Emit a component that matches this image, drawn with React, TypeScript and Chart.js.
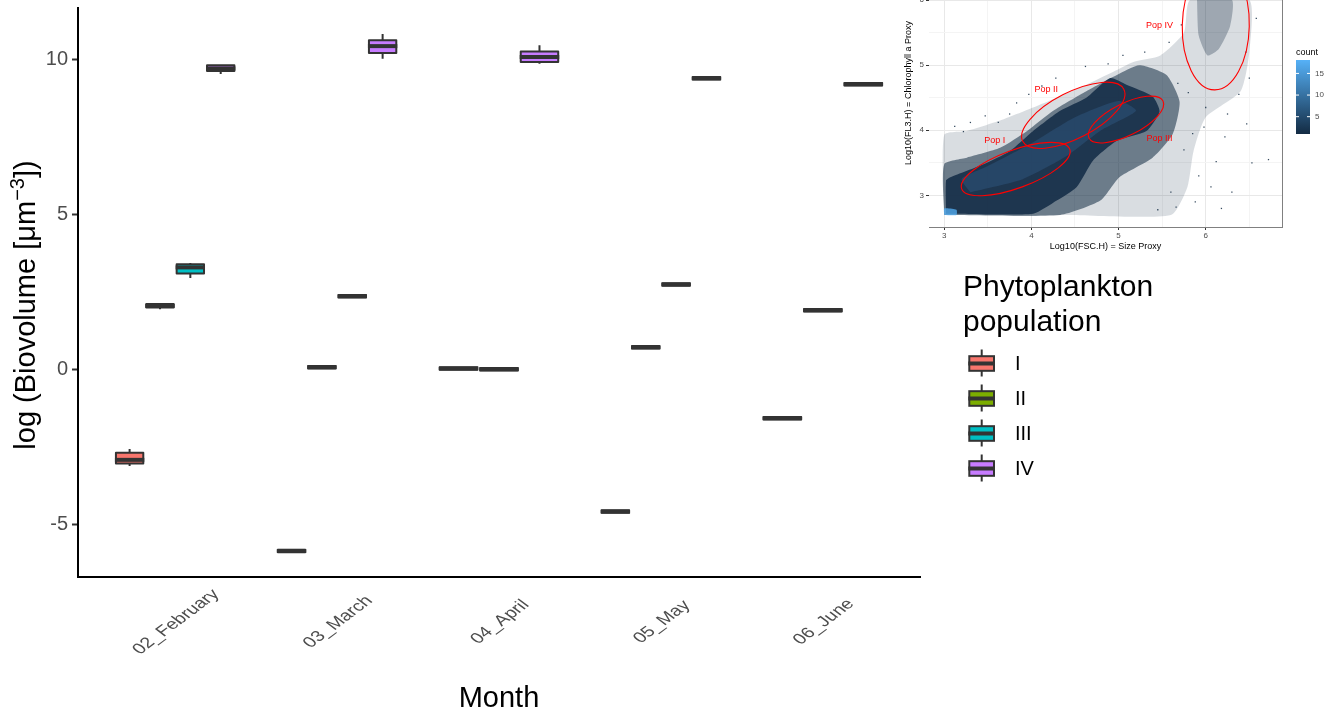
import { useEffect, useRef } from 'react';
import { Chart, registerables } from 'chart.js';

Chart.register(...registerables);

const FONT = '"Liberation Sans", Arial, Helvetica, sans-serif';

// ---------------- main chart data ----------------
const months = ['02_February', '03_March', '04_April', '05_May', '06_June'];
const populations = ['I', 'II', 'III', 'IV'];
const popColors = ['#F8766D', '#7CAE00', '#00BFC4', '#C77CFF'];
const xTitle = 'Month';
const yTitleMain = 'log (Biovolume [\u03BCm';
const yTitleSup = '\u22123';
const yTitleTail = '])';
const legendTitle = ['Phytoplankton', 'population'];

// five-number summaries per month: [lower whisker, Q1, median, Q3, upper whisker]; null = not present
const popI = [
  [-3.13, -3.05, -2.93, -2.70, -2.58],
  [-5.91, -5.91, -5.87, -5.83, -5.83],
  [-0.02, -0.02, 0.02, 0.06, 0.06],
  [-4.64, -4.64, -4.60, -4.56, -4.56],
  [-1.63, -1.63, -1.59, -1.55, -1.55],
];
const popII = [
  [1.93, 1.99, 2.04, 2.10, 2.10],
  [0.02, 0.02, 0.06, 0.10, 0.10],
  [-0.05, -0.05, -0.01, 0.03, 0.03],
  [0.66, 0.66, 0.70, 0.74, 0.74],
  null,
];
const popIII = [
  [2.94, 3.08, 3.28, 3.38, 3.42],
  [2.31, 2.31, 2.35, 2.39, 2.39],
  null,
  [2.69, 2.69, 2.73, 2.77, 2.77],
  [1.86, 1.86, 1.90, 1.94, 1.94],
];
const popIV = [
  [9.52, 9.62, 9.70, 9.80, 9.80],
  [10.01, 10.20, 10.42, 10.61, 10.81],
  [9.85, 9.91, 10.07, 10.25, 10.45],
  [9.34, 9.34, 9.38, 9.42, 9.42],
  [9.15, 9.15, 9.19, 9.23, 9.23],
];
const popStats: (number[] | null)[][] = [popI, popII, popIII, popIV];

// ---------------- inset (flow cytometry) data ----------------
const insetXTitle = 'Log10(FSC.H) = Size Proxy';
const insetYTitle = 'Log10(FL3.H) = Chlorophyll a Proxy';
const sparseCloud = [
  { x: 3.0, y: 2.70 }, { x: 4.4, y: 2.70 }, { x: 5.6, y: 2.70 }, { x: 5.79, y: 3.13 },
  { x: 5.86, y: 3.68 }, { x: 6.0, y: 4.2 }, { x: 6.4, y: 4.6 }, { x: 6.5, y: 5.2 },
  { x: 6.5, y: 6.0 }, { x: 5.82, y: 6.0 }, { x: 5.75, y: 5.5 }, { x: 5.48, y: 5.15 },
  { x: 5.17, y: 5.05 }, { x: 4.94, y: 4.9 }, { x: 4.63, y: 4.7 }, { x: 4.29, y: 4.5 },
  { x: 4.02, y: 4.35 }, { x: 3.64, y: 4.15 }, { x: 3.26, y: 3.99 }, { x: 3.0, y: 3.93 },
  { x: 3.0, y: 2.70 },
];
const mediumCloud = [
  { x: 3.0, y: 2.70 }, { x: 4.33, y: 2.70 }, { x: 4.79, y: 2.92 }, { x: 5.01, y: 3.28 },
  { x: 5.39, y: 3.58 }, { x: 5.62, y: 3.94 }, { x: 5.70, y: 4.44 }, { x: 5.55, y: 4.85 },
  { x: 5.24, y: 5.0 }, { x: 4.98, y: 4.85 }, { x: 4.63, y: 4.6 }, { x: 4.25, y: 4.3 },
  { x: 3.95, y: 3.99 }, { x: 3.64, y: 3.73 }, { x: 3.26, y: 3.58 }, { x: 3.0, y: 3.48 },
  { x: 3.0, y: 2.70 },
];
const denseCore = [
  { x: 3.02, y: 2.72 }, { x: 4.02, y: 2.72 }, { x: 4.29, y: 2.92 }, { x: 4.52, y: 3.13 },
  { x: 4.71, y: 3.54 }, { x: 4.98, y: 3.84 }, { x: 5.32, y: 3.99 }, { x: 5.47, y: 4.29 },
  { x: 5.39, y: 4.52 }, { x: 5.09, y: 4.70 }, { x: 4.90, y: 4.80 }, { x: 4.63, y: 4.5 },
  { x: 4.33, y: 4.3 }, { x: 4.02, y: 3.99 }, { x: 3.75, y: 3.68 }, { x: 3.45, y: 3.48 },
  { x: 3.07, y: 3.28 }, { x: 3.02, y: 3.23 }, { x: 3.02, y: 2.72 },
];
const blueTint = [
  { x: 3.3, y: 3.05 }, { x: 3.9, y: 3.25 }, { x: 4.4, y: 3.6 }, { x: 4.8, y: 4.0 },
  { x: 5.2, y: 4.3 }, { x: 5.0, y: 4.45 }, { x: 4.5, y: 4.2 }, { x: 4.0, y: 3.8 },
  { x: 3.5, y: 3.45 }, { x: 3.2, y: 3.25 }, { x: 3.3, y: 3.05 },
];
const brightCorner = [
  { x: 3.0, y: 2.70 }, { x: 3.14, y: 2.70 }, { x: 3.14, y: 2.78 }, { x: 3.0, y: 2.80 }, { x: 3.0, y: 2.70 },
];
const popIVCloud = [
  { x: 5.9, y: 6.0 }, { x: 5.92, y: 5.45 }, { x: 6.02, y: 5.15 }, { x: 6.15, y: 5.25 },
  { x: 6.28, y: 5.6 }, { x: 6.3, y: 6.0 }, { x: 5.9, y: 6.0 },
];
const outliers = [
  { x: 3.12, y: 4.06 }, { x: 3.22, y: 3.98 }, { x: 3.30, y: 4.12 }, { x: 3.47, y: 4.22 }, { x: 3.62, y: 4.12 },
  { x: 3.83, y: 4.42 }, { x: 3.97, y: 4.55 }, { x: 4.12, y: 4.68 }, { x: 4.28, y: 4.80 }, { x: 3.75, y: 4.25 },
  { x: 4.62, y: 4.98 }, { x: 4.88, y: 5.02 }, { x: 5.05, y: 5.15 }, { x: 5.30, y: 5.20 }, { x: 5.58, y: 5.35 },
  { x: 5.72, y: 5.62 }, { x: 5.68, y: 4.72 }, { x: 5.80, y: 4.58 }, { x: 6.22, y: 3.90 }, { x: 6.12, y: 3.52 },
  { x: 6.06, y: 3.13 }, { x: 6.18, y: 2.80 }, { x: 6.47, y: 4.10 }, { x: 6.53, y: 3.50 }, { x: 6.50, y: 4.80 },
  { x: 6.38, y: 4.55 }, { x: 6.46, y: 5.20 }, { x: 6.58, y: 5.72 }, { x: 5.92, y: 3.30 }, { x: 5.98, y: 4.05 },
  { x: 5.88, y: 2.90 }, { x: 5.66, y: 2.82 }, { x: 5.45, y: 2.78 }, { x: 6.30, y: 3.05 }, { x: 6.72, y: 3.55 },
  { x: 6.00, y: 4.35 }, { x: 6.25, y: 4.25 }, { x: 5.75, y: 3.70 }, { x: 5.60, y: 3.05 }, { x: 5.85, y: 3.95 },
];
const gateNames = ['Pop I', 'Pop II', 'Pop III', 'Pop IV'];
const gateAxisStart = [{ x: 3.20, y: 3.10 }, { x: 3.90, y: 3.83 }, { x: 4.66, y: 3.88 }, { x: 6.10, y: 4.62 }];
const gateAxisEnd = [{ x: 4.44, y: 3.71 }, { x: 5.06, y: 4.63 }, { x: 5.51, y: 4.45 }, { x: 6.13, y: 6.59 }];
const gateHalfWidthPx = [19, 23, 16, 33.5];
const gateLabelAt = [{ x: 3.58, y: 3.84 }, { x: 4.17, y: 4.63 }, { x: 5.47, y: 3.87 }, { x: 5.47, y: 5.61 }];
const countTicks = [5, 10, 15];
const countRange = [1, 18.1];

// ---------------- helpers ----------------
type Slot = { x: number; w: number };
function dodge(): (Slot | null)[][] {
  const out: (Slot | null)[][] = popStats.map(() => months.map(() => null));
  months.forEach((_, m) => {
    const present = popStats.map((s, p) => (s[m] ? p : -1)).filter((p) => p >= 0);
    const n = present.length;
    const w = 0.75 / n;
    present.forEach((p, k) => {
      out[p][m] = { x: m + 1 + (k - (n - 1) / 2) * w, w };
    });
  });
  return out;
}

const boxPlugin = {
  id: 'boxes',
  afterDatasetsDraw(chart: any) {
    const { ctx } = chart;
    const xs = chart.scales.x;
    const ys = chart.scales.y;
    const slots = dodge();
    ctx.save();
    ctx.strokeStyle = '#333333';
    ctx.lineJoin = 'round';
    popStats.forEach((stats, p) => {
      stats.forEach((s, m) => {
        const sl = slots[p][m];
        if (!s || !sl) return;
        const cx = xs.getPixelForValue(sl.x);
        const half = (xs.getPixelForValue(sl.x + sl.w / 2) - xs.getPixelForValue(sl.x - sl.w / 2)) / 2 - 1.5;
        const [lo, q1, med, q3, hi] = s.map((v) => ys.getPixelForValue(v));
        ctx.lineWidth = 2;
        ctx.beginPath();
        ctx.moveTo(cx, q3);
        ctx.lineTo(cx, hi);
        ctx.moveTo(cx, q1);
        ctx.lineTo(cx, lo);
        ctx.stroke();
        ctx.fillStyle = popColors[p];
        ctx.fillRect(cx - half, q3, 2 * half, q1 - q3);
        ctx.strokeRect(cx - half, q3, 2 * half, q1 - q3);
        ctx.lineWidth = 4;
        ctx.beginPath();
        ctx.moveTo(cx - half - 1, med);
        ctx.lineTo(cx + half + 1, med);
        ctx.stroke();
      });
    });
    ctx.restore();
  },
};

const mainTextPlugin = {
  id: 'mainText',
  afterDraw(chart: any) {
    const { ctx, chartArea } = chart;
    const xs = chart.scales.x;
    ctx.save();
    // rotated month labels
    ctx.fillStyle = '#4d4d4d';
    ctx.font = `20px ${FONT}`;
    ctx.textAlign = 'center';
    ctx.textBaseline = 'middle';
    months.forEach((name, i) => {
      const px = xs.getPixelForValue(i + 1);
      ctx.save();
      ctx.translate(px + 1, 622);
      ctx.scale(1, 0.75);
      ctx.rotate(-Math.PI / 4);
      ctx.fillText(name, 0, 0);
      ctx.restore();
    });
    // x title
    ctx.fillStyle = '#000';
    ctx.font = `29px ${FONT}`;
    ctx.textBaseline = 'alphabetic';
    ctx.fillText(xTitle, (chartArea.left + chartArea.right) / 2, 707);
    // y title with superscript
    ctx.save();
    ctx.translate(35, 305);
    ctx.rotate(-Math.PI / 2);
    ctx.textAlign = 'left';
    ctx.font = `29px ${FONT}`;
    const w1 = ctx.measureText(yTitleMain).width;
    const w3 = ctx.measureText(yTitleTail).width;
    ctx.font = `20px ${FONT}`;
    const w2 = ctx.measureText(yTitleSup).width;
    let sx = -(w1 + w2 + w3) / 2;
    ctx.font = `29px ${FONT}`;
    ctx.fillText(yTitleMain, sx, 0);
    sx += w1;
    ctx.font = `20px ${FONT}`;
    ctx.fillText(yTitleSup, sx, -11);
    sx += w2;
    ctx.font = `29px ${FONT}`;
    ctx.fillText(yTitleTail, sx, 0);
    ctx.restore();
    // legend
    ctx.textAlign = 'left';
    ctx.font = `30px ${FONT}`;
    ctx.fillStyle = '#000';
    ctx.fillText(legendTitle[0], 963, 296);
    ctx.fillText(legendTitle[1], 963, 331);
    populations.forEach((name, i) => {
      const cy = 363.5 + i * 35;
      const cx = 981.7;
      ctx.strokeStyle = '#333333';
      ctx.lineWidth = 2;
      ctx.beginPath();
      ctx.moveTo(cx, cy - 14);
      ctx.lineTo(cx, cy + 13);
      ctx.stroke();
      ctx.fillStyle = popColors[i];
      ctx.fillRect(969.3, cy - 7.3, 24.7, 14.6);
      ctx.strokeRect(969.3, cy - 7.3, 24.7, 14.6);
      ctx.lineWidth = 4;
      ctx.beginPath();
      ctx.moveTo(968.3, cy);
      ctx.lineTo(995, cy);
      ctx.stroke();
      ctx.fillStyle = '#000';
      ctx.font = `20px ${FONT}`;
      ctx.textBaseline = 'middle';
      ctx.fillText(name, 1015, cy + 1);
      ctx.textBaseline = 'alphabetic';
    });
    ctx.restore();
  },
};

const insetPlugin = {
  id: 'insetExtras',
  afterDatasetsDraw(chart: any) {
    const { ctx, chartArea } = chart;
    const xs = chart.scales.x;
    const ys = chart.scales.y;
    ctx.save();
    ctx.beginPath();
    ctx.rect(chartArea.left, chartArea.top, chartArea.right - chartArea.left, chartArea.bottom - chartArea.top);
    ctx.clip();
    ctx.strokeStyle = '#ff0000';
    ctx.lineWidth = 1.1;
    gateNames.forEach((_, i) => {
      const x1 = xs.getPixelForValue(gateAxisStart[i].x);
      const y1 = ys.getPixelForValue(gateAxisStart[i].y);
      const x2 = xs.getPixelForValue(gateAxisEnd[i].x);
      const y2 = ys.getPixelForValue(gateAxisEnd[i].y);
      const a = Math.hypot(x2 - x1, y2 - y1) / 2;
      const ang = Math.atan2(y2 - y1, x2 - x1);
      ctx.beginPath();
      ctx.ellipse((x1 + x2) / 2, (y1 + y2) / 2, a, gateHalfWidthPx[i], ang, 0, Math.PI * 2);
      ctx.stroke();
    });
    ctx.fillStyle = '#ff0000';
    ctx.font = `9px ${FONT}`;
    ctx.textAlign = 'center';
    ctx.textBaseline = 'middle';
    gateNames.forEach((name, i) => {
      ctx.fillText(name, xs.getPixelForValue(gateLabelAt[i].x), ys.getPixelForValue(gateLabelAt[i].y));
    });
    ctx.restore();
  },
  afterDraw(chart: any) {
    const { ctx, chartArea } = chart;
    ctx.save();
    // right panel border
    ctx.strokeStyle = '#808080';
    ctx.lineWidth = 1;
    ctx.beginPath();
    ctx.moveTo(chartArea.right + 0.5, chartArea.top);
    ctx.lineTo(chartArea.right + 0.5, chartArea.bottom);
    ctx.stroke();
    // colour bar legend
    const barL = 396, barW = 14, barTop = 105, barBot = 179;
    const grad = ctx.createLinearGradient(0, barBot, 0, barTop);
    grad.addColorStop(0, '#132B43');
    grad.addColorStop(1, '#56B1F7');
    ctx.fillStyle = grad;
    ctx.fillRect(barL, barTop, barW, barBot - barTop);
    ctx.fillStyle = '#000';
    ctx.font = `9px ${FONT}`;
    ctx.textAlign = 'left';
    ctx.textBaseline = 'alphabetic';
    ctx.fillText('count', barL, 100);
    ctx.font = `8px ${FONT}`;
    ctx.textBaseline = 'middle';
    countTicks.forEach((v) => {
      const yy = barBot - ((v - countRange[0]) / (countRange[1] - countRange[0])) * (barBot - barTop);
      ctx.strokeStyle = '#ffffff';
      ctx.beginPath();
      ctx.moveTo(barL, yy);
      ctx.lineTo(barL + 3, yy);
      ctx.moveTo(barL + barW - 3, yy);
      ctx.lineTo(barL + barW, yy);
      ctx.stroke();
      ctx.fillStyle = '#4d4d4d';
      ctx.fillText(String(v), barL + barW + 5, yy);
    });
    ctx.restore();
  },
};

const isInt = (v: number) => Math.abs(v - Math.round(v)) < 1e-6;

function mainConfig(): any {
  const slots = dodge();
  return {
    type: 'scatter',
    data: {
      datasets: populations.map((p, i) => ({
        label: p,
        data: popStats[i]
          .map((s, m) => (s && slots[i][m] ? { x: (slots[i][m] as Slot).x, y: s[2] } : null))
          .filter((d) => d !== null),
        pointRadius: 0,
        backgroundColor: popColors[i],
      })),
    },
    options: {
      animation: false,
      responsive: false,
      devicePixelRatio: 1,
      layout: { padding: { top: 8, right: 421, left: 0, bottom: 0 } },
      plugins: { legend: { display: false }, tooltip: { enabled: false } },
      scales: {
        x: {
          type: 'linear',
          min: 0.4,
          max: 5.6,
          afterFit: (s: any) => {
            s.height = 138;
            s.paddingLeft = 0;
            s.paddingRight = 0;
          },
          ticks: { display: false, stepSize: 1, includeBounds: false },
          grid: { display: false },
          border: { display: true, color: '#000000', width: 2 },
        },
        y: {
          min: -6.71,
          max: 11.65,
          afterFit: (s: any) => {
            s.width = 78;
            s.paddingTop = 0;
            s.paddingBottom = 0;
          },
          ticks: { stepSize: 5, includeBounds: false, font: { family: FONT, size: 20 }, color: '#4d4d4d', padding: 4 },
          grid: { display: true, drawOnChartArea: false, drawTicks: true, tickLength: 6, tickColor: '#333333', tickWidth: 2 },
          border: { display: true, color: '#000000', width: 2 },
        },
      },
    },
    plugins: [boxPlugin, mainTextPlugin],
  };
}

function insetConfig(): any {
  const poly = (data: any[], color: string, order: number) => ({
    data,
    showLine: true,
    fill: 'shape',
    backgroundColor: color,
    borderWidth: 0,
    borderColor: 'rgba(0,0,0,0)',
    pointRadius: 0,
    tension: 0.2,
    order,
  });
  const gridOpts = {
    color: (c: any) => (c.tick && isInt(c.tick.value) ? '#e8e8e8' : '#f4f4f4'),
    lineWidth: 1,
    drawTicks: true,
    tickLength: 3,
    tickColor: (c: any) => (c.tick && isInt(c.tick.value) ? '#333333' : 'rgba(0,0,0,0)'),
  };
  return {
    type: 'scatter',
    data: {
      datasets: [
        {
          data: outliers,
          pointRadius: 0.9,
          pointStyle: 'rect',
          backgroundColor: 'rgba(19,43,67,0.85)',
          borderWidth: 0,
          order: 0,
        },
        poly(brightCorner, 'rgba(86,177,247,0.75)', 1),
        poly(blueTint, 'rgba(60,110,165,0.28)', 2),
        poly(denseCore, 'rgba(24,48,74,0.92)', 3),
        poly(popIVCloud, 'rgba(19,43,67,0.3)', 4),
        poly(mediumCloud, 'rgba(19,43,67,0.55)', 5),
        poly(sparseCloud, 'rgba(19,43,67,0.16)', 6),
      ],
    },
    options: {
      animation: false,
      responsive: false,
      devicePixelRatio: 1,
      layout: { padding: { top: 0, right: 59, left: 0, bottom: 0 } },
      plugins: { legend: { display: false }, tooltip: { enabled: false } },
      scales: {
        x: {
          type: 'linear',
          min: 2.825,
          max: 6.875,
          afterFit: (s: any) => {
            s.height = 28;
            s.paddingLeft = 0;
            s.paddingRight = 0;
          },
          ticks: {
            stepSize: 0.5,
            includeBounds: false,
            autoSkip: false,
            maxRotation: 0,
            padding: 1,
            font: { family: FONT, size: 8 },
            color: '#4d4d4d',
            callback: (v: number) => (isInt(v) ? String(v) : ''),
          },
          grid: gridOpts,
          border: { display: true, color: '#808080', width: 1 },
          title: { display: true, text: insetXTitle, font: { family: FONT, size: 9 }, color: '#000', padding: { top: 0, bottom: 3 } },
        },
        y: {
          min: 2.515,
          max: 6.63,
          afterFit: (s: any) => {
            s.width = 29;
            s.paddingTop = 0;
            s.paddingBottom = 0;
          },
          ticks: {
            stepSize: 0.5,
            includeBounds: false,
            autoSkip: false,
            padding: 2,
            font: { family: FONT, size: 8 },
            color: '#4d4d4d',
            callback: (v: number) => (isInt(v) ? String(v) : ''),
          },
          grid: gridOpts,
          border: { display: false },
          title: { display: true, text: insetYTitle, font: { family: FONT, size: 9 }, color: '#000', padding: { top: 3, bottom: 0 } },
        },
      },
    },
    plugins: [insetPlugin],
  };
}

export default function App() {
  const mainRef = useRef<HTMLCanvasElement>(null);
  const insetRef = useRef<HTMLCanvasElement>(null);
  useEffect(() => {
    const main = new Chart(mainRef.current as HTMLCanvasElement, mainConfig());
    const inset = new Chart(insetRef.current as HTMLCanvasElement, insetConfig());
    return () => {
      main.destroy();
      inset.destroy();
    };
  }, []);
  return (
    <div style={{ position: 'fixed', left: 0, top: 0, width: 1341, height: 715, overflow: 'hidden', background: '#ffffff' }}>
      <canvas ref={mainRef} width={1341} height={715} style={{ position: 'absolute', left: 0, top: 0 }} />
      <canvas ref={insetRef} width={441} height={300} style={{ position: 'absolute', left: 900, top: -45 }} />
    </div>
  );
}
